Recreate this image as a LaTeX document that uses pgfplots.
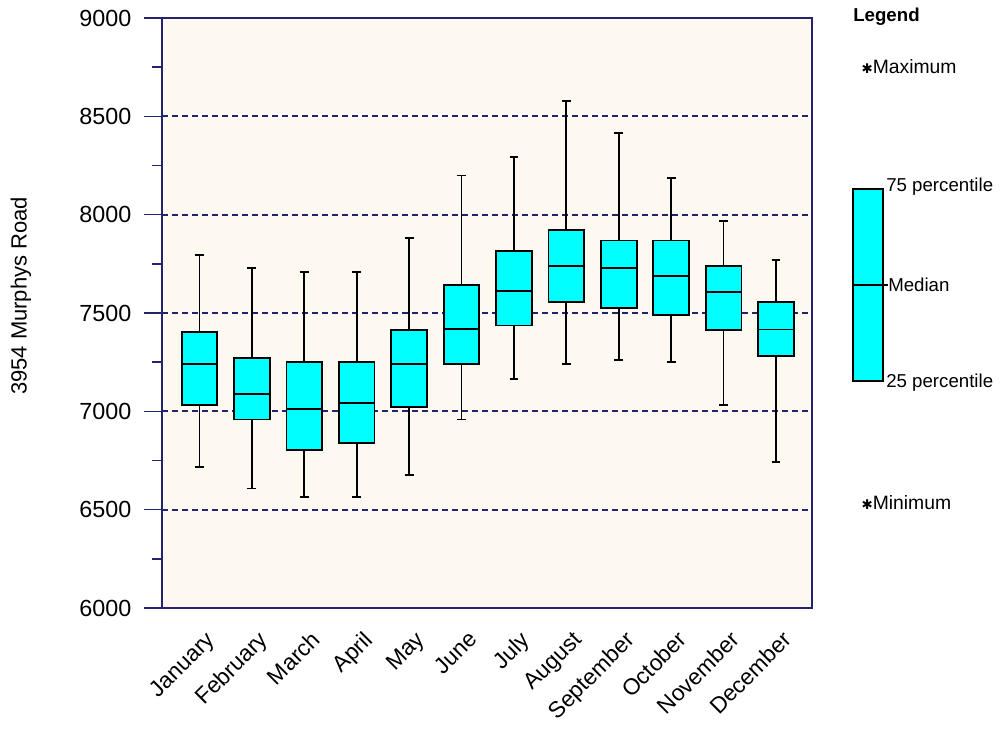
\documentclass[border=0pt]{standalone}
\usepackage{pgfplots}
\pgfplotsset{compat=1.18}
\usepgfplotslibrary{statistics}
\usepackage{fontspec}
\setmainfont{Liberation Sans}
\newfontfamily\djv{DejaVu Sans}
\definecolor{navy}{RGB}{35,35,110}
\definecolor{cream}{RGB}{253,249,240}
\definecolor{boxcyan}{RGB}{0,255,255}

\pgfplotsset{
  mybox/.style={fill=boxcyan, draw=black, line width=1.35pt, solid},
}
\newcommand{\bx}[6]{%
  \addplot[mybox, boxplot prepared={draw position=#1, lower whisker=#2, lower quartile=#3, median=#4, upper quartile=#5, upper whisker=#6}] coordinates {};
}

\begin{document}
\begin{tikzpicture}
\useasboundingbox (0pt,0pt) rectangle (751.5pt,546.75pt);
\begin{axis}[
  at={(121.5pt,90.75pt)}, anchor=south west,
  scale only axis, width=487.5pt, height=442.5pt,
  xmin=0.284, xmax=12.687, ymin=6000, ymax=9000,
  boxplot/draw direction=y,
  axis background/.style={fill=cream},
  axis line style={draw=navy, line width=1.3pt},
  xtick={1,...,12},
  xticklabels={January,February,March,April,May,June,July,August,September,October,November,December},
  major x tick style={draw=none},
  ytick={6000,6500,...,9000},
  minor y tick num=1,
  ytick pos=left,
  xtick pos=bottom,
  tick align=outside,
  major tick length=13.5pt,
  minor tick length=7.5pt,
  y tick style={draw=navy, line width=1.2pt},
  ymajorgrids,
  major grid style={draw=navy, dash pattern=on 4.5pt off 3pt, line width=1.4pt},
  /pgf/number format/1000 sep={},
  /pgf/number format/assume math mode=true,
  yticklabel style={font=\fontsize{17.5}{20}\selectfont, xshift=-6pt},
  xticklabel style={font=\fontsize{17}{20}\selectfont, xshift=4pt, yshift=2pt, rotate=45, anchor=north east},
  ylabel={3954 Murphys Road},
  ylabel style={font=\fontsize{16.5}{19}\selectfont, at={(axis description cs:-0.217,0.529)}, anchor=center},
  boxplot/box extend=0.68,
  boxplot/whisker extend=0.17,
]
% position, min, q1, median, q3, max
\bx{1}{6717}{7034}{7241}{7402}{7795}
\bx{2}{6608}{6958}{7088}{7271}{7729}
\bx{3}{6566}{6805}{7012}{7251}{7707}
\bx{4}{6566}{6839}{7042}{7251}{7707}
\bx{5}{6675}{7024}{7241}{7414}{7882}
\bx{6}{6958}{7241}{7418}{7643}{8199}
\bx{7}{7163}{7436}{7610}{7815}{8293}
\bx{8}{7241}{7556}{7741}{7924}{8576}
\bx{9}{7261}{7526}{7729}{7869}{8414}
\bx{10}{7251}{7490}{7687}{7869}{8185}
\bx{11}{7032}{7414}{7608}{7739}{7968}
\bx{12}{6741}{7283}{7416}{7554}{7771}
\end{axis}
% legend
\node[anchor=west, inner sep=0pt, font=\fontsize{14}{16}\selectfont\bfseries] at (639.75pt,534pt) {Legend};
\node[anchor=west, inner sep=0pt, font=\fontsize{14.5}{17}\selectfont] at (646pt,496.5pt) {{\djv\fontsize{10}{10}\selectfont ✱}Maximum};
\draw[fill=boxcyan, draw=black, line width=1.2pt] (639.75pt,261pt) rectangle (662.25pt,405pt);
\draw[black, line width=1.2pt] (639.75pt,333pt) -- (666pt,333pt);
\node[anchor=west, inner sep=0pt, font=\fontsize{14}{16}\selectfont] at (664.5pt,406.5pt) {75 percentile};
\node[anchor=west, inner sep=0pt, font=\fontsize{14}{16}\selectfont] at (666pt,333pt) {Median};
\node[anchor=west, inner sep=0pt, font=\fontsize{14}{16}\selectfont] at (664.5pt,259.5pt) {25 percentile};
\node[anchor=west, inner sep=0pt, font=\fontsize{14.5}{17}\selectfont] at (646pt,170pt) {{\djv\fontsize{10}{10}\selectfont ✱}Minimum};
\end{tikzpicture}
\end{document}
